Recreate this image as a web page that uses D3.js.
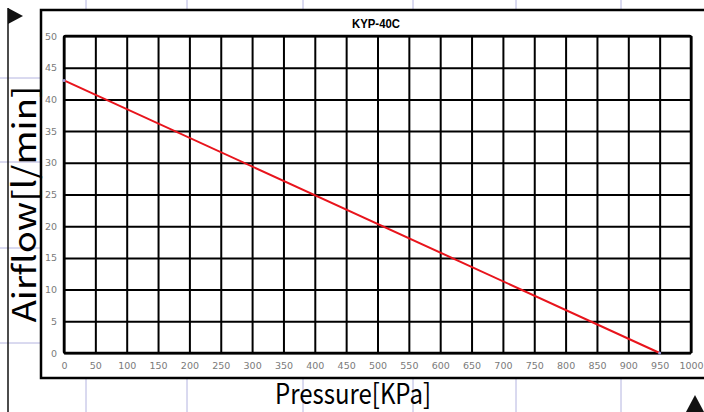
<!DOCTYPE html>
<html>
<head>
<meta charset="utf-8">
<script src="https://cdn.jsdelivr.net/npm/d3@7"></script>
<style>
  body { margin: 0; background: #fff; }
  .tick text { font-family: "DejaVu Sans", sans-serif; font-size: 9.5px; fill: #7a7a7a; }
  .grid .tick line { stroke: #000; stroke-width: 2; }
  .grid .domain { display: none; }
</style>
</head>
<body>
<script>
// chart data
var pressure = [0, 950];
var airflow = [43, 0];
var xTicks = [0, 50, 100, 150, 200, 250, 300, 350, 400, 450, 500, 550, 600, 650, 700, 750, 800, 850, 900, 950, 1000];
var yTicks = [0, 5, 10, 15, 20, 25, 30, 35, 40, 45, 50];
var guideX = [86, 187, 303, 413, 516, 621];
var guideY = [78, 162, 248, 343];

var w = 704, h = 412;
var plot = { left: 64, right: 691, top: 36, bottom: 353 };

var svg = d3.select('body').append('svg')
    .attr('width', w)
    .attr('height', h);

var xScale = d3.scaleLinear()
    .domain([0, 1000])
    .range([plot.left, plot.right]);

var yScale = d3.scaleLinear()
    .domain([0, 50])
    .range([plot.bottom, plot.top]);

// faint blue guide lines outside the frame
var guideColor = '#b4b4e0';
guideX.forEach(function(x) {
    svg.append('line').attr('x1', x).attr('x2', x).attr('y1', 0).attr('y2', 10)
        .attr('stroke', guideColor).attr('stroke-width', 1);
    svg.append('line').attr('x1', x).attr('x2', x).attr('y1', 378).attr('y2', h)
        .attr('stroke', guideColor).attr('stroke-width', 1);
});
guideY.forEach(function(y) {
    svg.append('line').attr('x1', 0).attr('x2', 41).attr('y1', y).attr('y2', y)
        .attr('stroke', guideColor).attr('stroke-width', 1);
});

// left rule + arrows
svg.append('line')
    .attr('x1', 8).attr('x2', 8).attr('y1', 8).attr('y2', h)
    .attr('stroke', '#111').attr('stroke-width', 1.5);
svg.append('path')
    .attr('d', 'M8,8 L8,24 L23,16 Z')
    .attr('fill', '#111');
svg.append('path')
    .attr('d', 'M686,412 L704,412 L695,395 Z')
    .attr('fill', '#111');

// outer frame
svg.append('rect')
    .attr('x', 41).attr('y', 10)
    .attr('width', 680).attr('height', 368)
    .attr('fill', 'none')
    .attr('stroke', '#000')
    .attr('stroke-width', 2.5);

// grid (axis trick: tick lines span the plot, labels sit outside)
var xAxis = d3.axisBottom(xScale)
    .tickValues(xTicks)
    .tickFormat(d3.format('d'))
    .tickSize(plot.bottom - plot.top)
    .tickPadding(9);

svg.append('g')
    .attr('class', 'grid')
    .attr('transform', 'translate(0,' + plot.top + ')')
    .call(xAxis);

var yAxis = d3.axisLeft(yScale)
    .tickValues(yTicks)
    .tickFormat(d3.format('d'))
    .tickSize(plot.right - plot.left)
    .tickPadding(7);

svg.append('g')
    .attr('class', 'grid')
    .attr('transform', 'translate(' + plot.right + ',0)')
    .call(yAxis);

// plot border
svg.append('rect')
    .attr('x', plot.left).attr('y', plot.top)
    .attr('width', plot.right - plot.left)
    .attr('height', plot.bottom - plot.top)
    .attr('rx', 1.5)
    .attr('fill', 'none')
    .attr('stroke', '#000')
    .attr('stroke-width', 2.5);

// the curve
var line = d3.line()
    .x(function(d, i) { return xScale(pressure[i]); })
    .y(function(d, i) { return yScale(airflow[i]); });

svg.append('path')
    .datum(pressure)
    .attr('d', line)
    .attr('fill', 'none')
    .attr('stroke', '#e8141c')
    .attr('stroke-width', 2);

svg.selectAll('.endpt')
    .data(pressure)
    .enter()
    .append('circle')
    .attr('class', 'endpt')
    .attr('cx', function(d) { return xScale(d); })
    .attr('cy', function(d, i) { return yScale(airflow[i]); })
    .attr('r', 1.5)
    .attr('fill', '#9a9ad8');

// titles
svg.append('text')
    .attr('x', 376)
    .attr('y', 28)
    .attr('text-anchor', 'middle')
    .attr('textLength', 48)
    .attr('lengthAdjust', 'spacingAndGlyphs')
    .style('font-family', 'Liberation Sans, Arial, sans-serif')
    .style('font-weight', 'bold')
    .style('font-size', '12px')
    .text('KYP-40C');

svg.append('text')
    .attr('transform', 'translate(36,204) rotate(-90)')
    .attr('text-anchor', 'middle')
    .attr('textLength', 237)
    .attr('lengthAdjust', 'spacingAndGlyphs')
    .style('font-family', '"Noto Sans CJK SC", "Noto Sans", sans-serif')
    .style('font-weight', 400)
    .style('font-size', '32px')
    .text('Airflow[l/min]');

svg.append('text')
    .attr('x', 353)
    .attr('y', 404)
    .attr('text-anchor', 'middle')
    .attr('textLength', 156)
    .attr('lengthAdjust', 'spacingAndGlyphs')
    .style('font-family', '"Noto Sans CJK SC", "Noto Sans", sans-serif')
    .style('font-weight', 400)
    .style('font-size', '28px')
    .text('Pressure[KPa]');
</script>
</body>
</html>
